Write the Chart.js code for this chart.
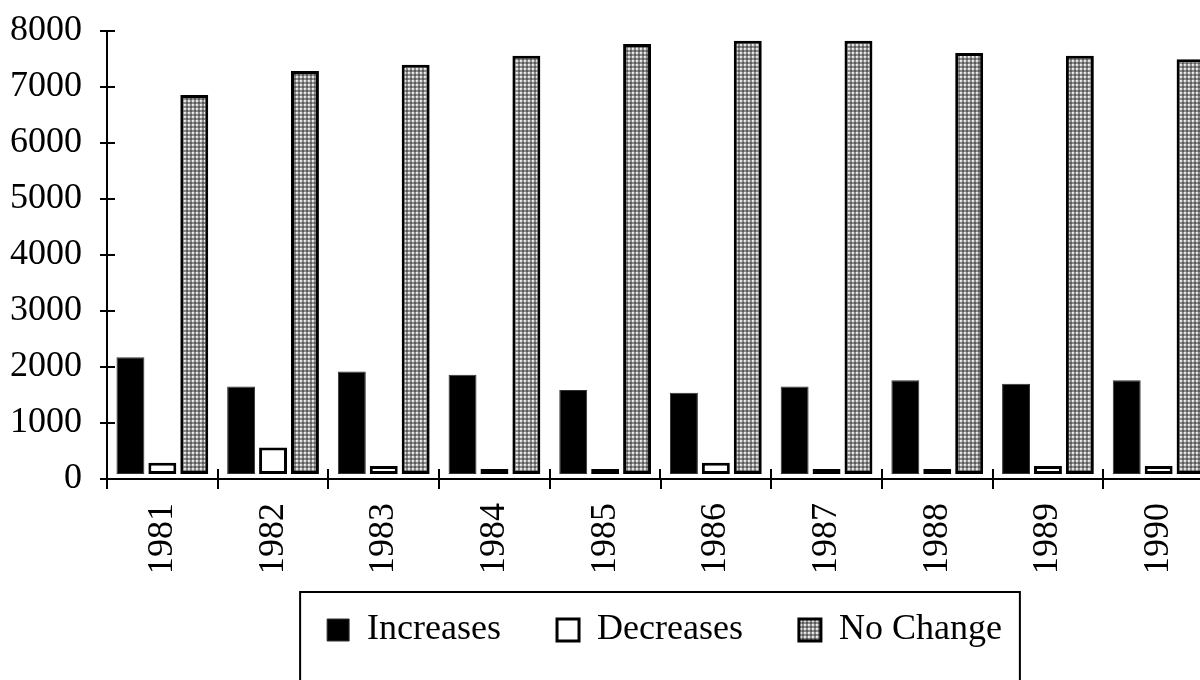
<!DOCTYPE html>
<html lang="en">
<head>
  <meta charset="UTF-8">
  <title>Increases, Decreases, No Change 1981-1990</title>
  <script src="https://cdn.jsdelivr.net/npm/chart.js"></script>
  <style>
    html, body { margin: 0; padding: 0; background: #fff; }
    #wrap { width: 1200px; height: 680px; overflow: hidden; position: relative; }
    #chart { position: absolute; left: 0; top: 0; }
  </style>
</head>
<body>
  <div id="wrap">
    <canvas id="chart" width="1230" height="745"></canvas>
  </div>
  <script>
    // data
    const years = ['1981', '1982', '1983', '1984', '1985', '1986', '1987', '1988', '1989', '1990'];
    const increases = [2170, 1650, 1920, 1860, 1590, 1540, 1650, 1760, 1700, 1760];
    const decreases = [290, 560, 230, 180, 180, 290, 180, 180, 230, 230];
    const noChange = [6850, 7280, 7390, 7550, 7760, 7820, 7820, 7600, 7550, 7490];
    const yMax = 8000;
    const yStep = 1000;
    const barBase = 90; // bars sit a little above the zero line in the original

    // checkered grey fill for "No Change"
    function makePattern() {
      const c = document.createElement('canvas');
      c.width = 4; c.height = 4;
      const g = c.getContext('2d');
      g.fillStyle = '#8c8c8c';
      g.fillRect(0, 0, 4, 4);
      g.fillStyle = '#dcdcdc';
      g.fillRect(0, 0, 2, 2);
      g.fillStyle = '#5a5a5a';
      g.fillRect(2, 2, 2, 2);
      g.fillStyle = '#f4f4f4';
      g.fillRect(0, 0, 1, 1);
      return g.createPattern(c, 'repeat');
    }
    const pattern = makePattern();

    Chart.defaults.font.family = "'Liberation Serif', 'Times New Roman', serif";
    Chart.defaults.font.size = 36;
    Chart.defaults.color = '#000';

    // tick marks that cross the axis lines (inner half) + legend frame
    const innerTicks = {
      id: 'innerTicks',
      afterLayout(chart) {
        // nudge the legend so its labels sit where the original has them
        const lg = chart.legend;
        lg.top -= 15; lg.bottom -= 15;
        lg.left += 4; lg.right += 4;
      },
      afterDraw(chart) {
        const { ctx, chartArea } = chart;
        const x = chart.scales.x, y = chart.scales.y;
        ctx.save();
        ctx.strokeStyle = '#000';
        ctx.lineWidth = 2;
        ctx.beginPath();
        y.ticks.forEach((t, i) => {
          const py = Math.round(y.getPixelForTick(i));
          ctx.moveTo(chartArea.left, py);
          ctx.lineTo(chartArea.left + 8, py);
        });
        const step = x.getPixelForTick(1) - x.getPixelForTick(0);
        for (let i = 0; i <= x.ticks.length; i++) {
          const px = Math.round(x.getPixelForTick(0) - step / 2 + i * step);
          ctx.moveTo(px, chartArea.bottom);
          ctx.lineTo(px, chartArea.bottom - 10);
        }
        ctx.stroke();

        const hb = chart.legend.legendHitBoxes;
        if (hb && hb.length) {
          const first = hb[0], last = hb[hb.length - 1];
          const left = first.left - 27;
          const right = last.left + last.width + 18;
          const top = first.top - 20;
          ctx.lineWidth = 2;
          ctx.strokeRect(left, top, right - left, chart.height + 20 - top);
        }
        ctx.restore();
      }
    };

    new Chart(document.getElementById('chart'), {
      type: 'bar',
      data: {
        labels: years,
        datasets: [
          { label: 'Increases', data: increases, base: barBase,
            backgroundColor: '#000', borderColor: '#333', borderWidth: 1 },
          { label: 'Decreases', data: decreases, base: barBase,
            backgroundColor: '#fff', borderColor: '#000', borderWidth: 3 },
          { label: 'No Change', data: noChange, base: barBase,
            backgroundColor: pattern, borderColor: '#000', borderWidth: 3 }
        ]
      },
      options: {
        responsive: false,
        animation: false,
        devicePixelRatio: 1,
        layout: { padding: { top: 0, right: 16, left: 0, bottom: 72 } },
        datasets: {
          bar: { categoryPercentage: 0.865, barPercentage: 0.875, borderSkipped: false }
        },
        plugins: {
          legend: {
            position: 'bottom',
            fullSize: false,
            labels: {
              boxWidth: 22,
              boxHeight: 22,
              padding: 56,
              font: { size: 36 },
              color: '#000'
            }
          },
          tooltip: { enabled: false }
        },
        scales: {
          x: {
            grid: { display: true, drawOnChartArea: false, drawTicks: true, tickLength: 10,
                    color: '#000', lineWidth: 2, offset: true },
            border: { display: true, color: '#000', width: 2 },
            ticks: { minRotation: 90, maxRotation: 90, autoSkip: false, padding: 14,
                     font: { size: 36 }, color: '#000' },
            afterFit(scale) { scale.height = 92; }
          },
          y: {
            min: 0,
            max: yMax,
            grid: { display: true, drawOnChartArea: false, drawTicks: true, tickLength: 7,
                    color: '#000', lineWidth: 2 },
            border: { display: true, color: '#000', width: 2 },
            ticks: { stepSize: yStep, padding: 18, font: { size: 36, lineHeight: 0.7 }, color: '#000',
                     callback: v => String(v) },
            afterFit(scale) { scale.width = 107; }
          }
        }
      },
      plugins: [innerTicks]
    });
  </script>
</body>
</html>
